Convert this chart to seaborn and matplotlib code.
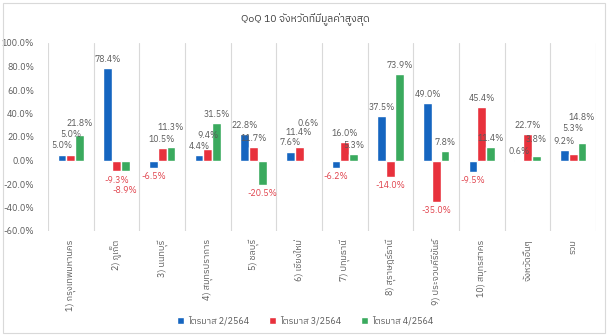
import matplotlib
matplotlib.use('Agg')
import matplotlib.pyplot as plt
from matplotlib import font_manager
from matplotlib.ft2font import FT2Font
from matplotlib.patches import Rectangle
import seaborn as sns
import pandas as pd

# ---------------- data ----------------
title = "QoQ 10 จังหวัดที่มีมูลค่าสูงสุด"
provinces = ["1) กรุงเทพมหานคร", "2) ภูเก็ต", "3) นนทบุรี", "4) สมุทรปราการ",
             "5) ชลบุรี", "6) เชียงใหม่", "7) ปทุมธานี", "8) สุราษฎร์ธานี",
             "9) ประจวบคีรีขันธ์", "10) สมุทรสาคร", "จังหวัดอื่นๆ", "รวม"]
quarters = ["ไตรมาส 2/2564", "ไตรมาส 3/2564", "ไตรมาส 4/2564"]
q2 = [5.0, 78.4, -6.5, 4.4, 22.8, 7.6, -6.2, 37.5, 49.0, -9.5, 0.6, 9.2]
q3 = [5.0, -9.3, 10.5, 9.4, 11.7, 11.4, 16.0, -14.0, -35.0, 45.4, 22.7, 5.3]
q4 = [21.8, -8.9, 11.3, 31.5, -20.5, 0.6, 5.3, 73.9, 7.8, 11.4, 3.8, 14.8]
yticks = [-60, -40, -20, 0, 20, 40, 60, 80, 100]
colors = ["#1565c0", "#e8313c", "#3aaa5e"]

# ---------------- font ----------------
def find_thai_family():
    cands = []
    for f in font_manager.fontManager.ttflist:
        try:
            cm = FT2Font(f.fname).get_charmap()
        except Exception:
            continue
        if 0x0E01 in cm:
            cands.append(f.name)
    for c in cands:
        if "Sans" in c and "Looped" not in c:
            return c
    return cands[0] if cands else None

thai = find_thai_family()
sns.set_theme(style="white")
fam = ([thai] if thai else []) + ["DejaVu Sans"]
plt.rcParams["font.family"] = fam

rows = []
for q, vals in zip(quarters, [q2, q3, q4]):
    for p, v in zip(provinces, vals):
        rows.append({"province": p, "quarter": q, "value": v})
df = pd.DataFrame(rows)

fig = plt.figure(figsize=(6.10, 3.36), dpi=100)
ax = fig.add_axes([48/610, 1-231/336, (596-48)/610, (231-43)/336])

sns.barplot(data=df, x="province", y="value", hue="quarter", order=provinces,
            hue_order=quarters, palette=colors, width=0.57, saturation=1,
            ax=ax, errorbar=None, legend=True)

ax.set_ylim(-60, 100)
ax.set_xlim(-0.5, len(provinces) - 0.5)
ax.set_yticks(yticks)
ax.set_yticklabels([f"{t:.1f}%" for t in yticks], fontsize=6.5, color="#595959")
ax.tick_params(axis="y", length=0, pad=10)
ax.tick_params(axis="x", length=0, pad=6)
ax.set_xticks(range(len(provinces)))
ax.set_xticklabels(provinces, rotation=90, va="top", ha="center",
                   fontsize=6.5, color="#595959")
ax.set_xlabel("")
ax.set_ylabel("")
for s in ax.spines.values():
    s.set_visible(False)
for i in range(len(provinces) + 1):
    ax.axvline(i - 0.5, color="#d9d9d9", lw=0.8, zorder=0)

# data labels with simple collision avoidance
fig.canvas.draw()
renderer = fig.canvas.get_renderer()
placed = []
bars_by_cat = {}
for cont in ax.containers:
    for ci, bar in enumerate(cont):
        bars_by_cat.setdefault(ci, []).append(bar)

for ci in sorted(bars_by_cat):
    for bar in bars_by_cat[ci]:
        h = bar.get_height()
        x = bar.get_x() + bar.get_width() / 2
        sign = 1 if h >= 0 else -1
        off = 3
        while True:
            t = ax.annotate(f"{h:.1f}%", (x, h), xytext=(0, sign * off),
                            textcoords="offset points", ha="center",
                            va="bottom" if sign > 0 else "top", fontsize=6.3,
                            color="#595959" if sign > 0 else "#e0404a")
            bb = t.get_window_extent(renderer).expanded(1.0, 1.05)
            if any(bb.overlaps(p) for p in placed) and off < 60:
                t.remove()
                off += 2
                continue
            placed.append(bb)
            break

leg = ax.get_legend()
handles, labels = ax.get_legend_handles_labels()
leg.remove()
fig.legend(handles, labels, loc="center", bbox_to_anchor=(0.5, 1-321/336), ncol=3,
           frameon=False, fontsize=6.5, handlelength=0.8, handleheight=0.8,
           handletextpad=0.4, columnspacing=2.2, labelcolor="#595959")

fig.text(0.5, 1-20/336, title, ha="center", va="center", fontsize=7.5, color="#404040")
fig.patches.append(Rectangle((3/610, 3/336), 602/610, 330/336, transform=fig.transFigure,
                             fill=False, edgecolor="#d9d9d9", lw=0.8))

fig.savefig("out.png", dpi=100)
